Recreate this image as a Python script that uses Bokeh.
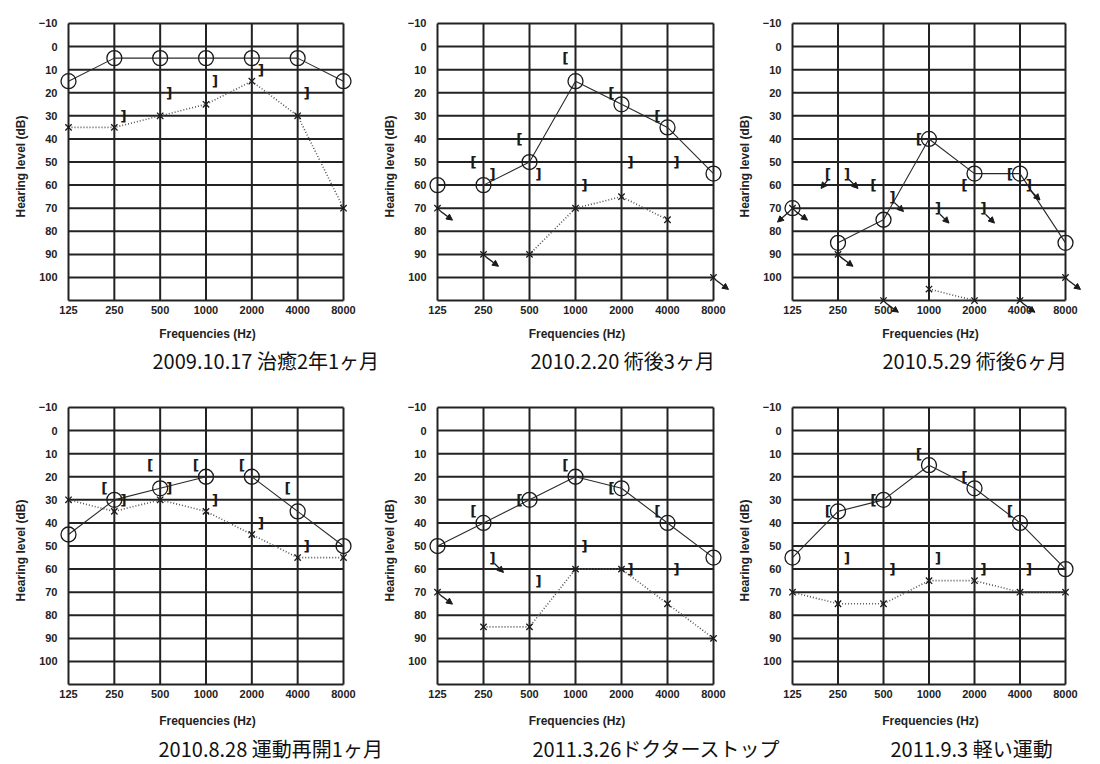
from bokeh.plotting import figure
from bokeh.layouts import column, row
from bokeh.models import (Range1d, FixedTicker, CustomJSTickFormatter, Arrow,
                          NormalHead, ColumnDataSource)
from bokeh.core.properties import value
from bokeh.embed import file_html
from bokeh.resources import INLINE

# ---------------- data ----------------
FREQS = [125, 250, 500, 1000, 2000, 4000, 8000]
BC_FREQS = [250, 500, 1000, 2000, 4000]
DB_TICKS = [-10, 0, 10, 20, 30, 40, 50, 60, 70, 80, 90, 100]
DB_FLOOR = 110

CAPTIONS_TOP = ["2009.10.17 治癒2年1ヶ月", "2010.2.20 術後3ヶ月", "2010.5.29 術後6ヶ月"]
CAPTIONS_BOTTOM = ["2010.8.28 運動再開1ヶ月", "2011.3.26ドクターストップ", "2011.9.3 軽い運動"]

# right ear air conduction (O, solid line), left ear air conduction (X, dotted)
# right bone conduction "[" and left bone conduction "]"; *_nr = no response (arrow)
r_ac_1 = [15, 5, 5, 5, 5, 5, 15]
r_ac_nr_1 = [0, 0, 0, 0, 0, 0, 0]
l_ac_1 = [35, 35, 30, 25, 15, 30, 70]
l_ac_nr_1 = [0, 0, 0, 0, 0, 0, 0]
r_bc_1 = [None, None, None, None, None]
r_bc_nr_1 = [0, 0, 0, 0, 0]
l_bc_1 = [30, 20, 15, 10, 20]
l_bc_nr_1 = [0, 0, 0, 0, 0]

r_ac_2 = [60, 60, 50, 15, 25, 35, 55]
r_ac_nr_2 = [0, 0, 0, 0, 0, 0, 0]
l_ac_2 = [70, 90, 90, 70, 65, 75, 100]
l_ac_nr_2 = [1, 1, 0, 0, 0, 0, 1]
r_bc_2 = [50, 40, 5, 20, 30]
r_bc_nr_2 = [0, 0, 0, 0, 0]
l_bc_2 = [55, 55, 60, 50, 50]
l_bc_nr_2 = [0, 0, 0, 0, 0]

r_ac_3 = [70, 85, 75, 40, 55, 55, 85]
r_ac_nr_3 = [1, 0, 0, 0, 0, 0, 0]
l_ac_3 = [70, 90, 110, 105, 110, 110, 100]
l_ac_nr_3 = [1, 1, 1, 0, 0, 1, 1]
r_bc_3 = [55, 60, 40, 60, 55]
r_bc_nr_3 = [1, 0, 0, 0, 0]
l_bc_3 = [55, 65, 70, 70, 60]
l_bc_nr_3 = [1, 1, 1, 1, 1]

r_ac_4 = [45, 30, 25, 20, 20, 35, 50]
r_ac_nr_4 = [0, 0, 0, 0, 0, 0, 0]
l_ac_4 = [30, 35, 30, 35, 45, 55, 55]
l_ac_nr_4 = [0, 0, 0, 0, 0, 0, 0]
r_bc_4 = [25, 15, 15, 15, 25]
r_bc_nr_4 = [0, 0, 0, 0, 0]
l_bc_4 = [30, 25, 30, 40, 50]
l_bc_nr_4 = [0, 0, 0, 0, 0]

r_ac_5 = [50, 40, 30, 20, 25, 40, 55]
r_ac_nr_5 = [0, 0, 0, 0, 0, 0, 0]
l_ac_5 = [70, 85, 85, 60, 60, 75, 90]
l_ac_nr_5 = [1, 0, 0, 0, 0, 0, 0]
r_bc_5 = [35, 30, 15, 25, 35]
r_bc_nr_5 = [0, 0, 0, 0, 0]
l_bc_5 = [55, 65, 50, 60, 60]
l_bc_nr_5 = [1, 0, 0, 0, 0]

r_ac_6 = [55, 35, 30, 15, 25, 40, 60]
r_ac_nr_6 = [0, 0, 0, 0, 0, 0, 0]
l_ac_6 = [70, 75, 75, 65, 65, 70, 70]
l_ac_nr_6 = [0, 0, 0, 0, 0, 0, 0]
r_bc_6 = [35, 30, 10, 20, 35]
r_bc_nr_6 = [0, 0, 0, 0, 0]
l_bc_6 = [55, 60, 55, 60, 60]
l_bc_nr_6 = [0, 0, 0, 0, 0]

# ---------------- layout / style ----------------
INK = "#1a1a1a"
TICK_FONT = "Liberation Sans"
GRID_H = 279          # px from -10 dB to 110 dB
PL, PR, PT, PB = 17, 20, 3, 12   # padding around the chart box (px)


def audiogram(r_ac, r_ac_nr, l_ac, l_ac_nr, r_bc, r_bc_nr, l_bc, l_bc_nr,
              width, span, bl, height, bt, bb, x_label_gap):
    oct_px = span / 6.0
    db_px = GRID_H / float(DB_FLOOR - DB_TICKS[0])

    def shift(f, db, dx, dy):
        return f * 2 ** (dx / oct_px), db + dy / db_px

    x0 = FREQS[0] / 2 ** (PL / oct_px)
    x1 = FREQS[-1] * 2 ** (PR / oct_px)
    ytop = DB_TICKS[0] - PT / db_px
    ybot = DB_FLOOR + PB / db_px
    br = width - bl - (span + PL + PR)

    p = figure(width=width, height=height, x_axis_type="log", title=None,
               x_range=Range1d(x0, x1), y_range=Range1d(ybot, ytop),
               toolbar_location=None, output_backend="svg",
               min_border_left=bl, min_border_right=br,
               min_border_top=bt, min_border_bottom=bb)
    p.background_fill_color = "white"
    p.border_fill_color = "white"
    p.outline_line_color = None
    p.grid.visible = False

    p.xaxis.ticker = FixedTicker(ticks=FREQS)
    p.xaxis.formatter = CustomJSTickFormatter(code="return String(Math.round(tick));")
    p.yaxis.ticker = FixedTicker(ticks=DB_TICKS)
    for ax in (p.xaxis, p.yaxis):
        ax.axis_line_color = None
        ax.major_tick_line_color = None
        ax.minor_tick_line_color = None
        ax.major_tick_out = 0
        ax.major_tick_in = 0
        ax.major_label_text_font = TICK_FONT
        ax.major_label_text_font_size = "11px"
        ax.major_label_text_font_style = "bold"
        ax.major_label_text_color = "#222222"
        ax.axis_label_text_font = TICK_FONT
        ax.axis_label_text_font_size = "12px"
        ax.axis_label_text_font_style = "bold"
        ax.axis_label_text_color = "#222222"
    p.xaxis.axis_label = "Frequencies (Hz)"
    p.yaxis.axis_label = "Hearing level (dB)"
    p.xaxis.major_label_standoff = 5 - PB
    p.xaxis.axis_label_standoff = x_label_gap
    p.yaxis.major_label_standoff = 11 - PL
    p.yaxis.axis_label_standoff = 8

    # chart grid (box from 125 to 8000 Hz, -10 to 110 dB)
    hlines = DB_TICKS + [DB_FLOOR]
    p.segment(x0=[FREQS[0]] * len(hlines), y0=hlines,
              x1=[FREQS[-1]] * len(hlines), y1=hlines,
              line_color="#222222", line_width=2)
    p.segment(x0=FREQS, y0=[DB_TICKS[0]] * len(FREQS),
              x1=FREQS, y1=[DB_FLOOR] * len(FREQS),
              line_color="#222222", line_width=2)

    nan = float("nan")
    r_line = [nan if n else v for v, n in zip(r_ac, r_ac_nr)]
    l_line = [nan if n else v for v, n in zip(l_ac, l_ac_nr)]
    p.line(FREQS, r_line, line_color="#2a2a2a", line_width=1.1)
    p.line(FREQS, l_line, line_color="#555555", line_width=1.6, line_dash="1 2")

    p.scatter(FREQS, r_ac, marker="circle", size=15, fill_alpha=0,
              line_color=INK, line_width=1.3)
    p.scatter(FREQS, l_ac, marker="x", size=9, line_color=INK, line_width=1.3)

    rx = [f for f, v in zip(BC_FREQS, r_bc) if v is not None]
    ry = [v for v in r_bc if v is not None]
    lx = [f for f, v in zip(BC_FREQS, l_bc) if v is not None]
    ly = [v for v in l_bc if v is not None]
    if rx:
        p.text(rx, ry, text=["["] * len(rx), x_offset=-10, text_align="center",
               text_baseline="middle", text_font=value("DejaVu Sans"),
               text_font_size="14px", text_font_style="bold", text_color=INK)
    if lx:
        p.text(lx, ly, text=["]"] * len(lx), x_offset=9, text_align="center",
               text_baseline="middle", text_font=value("DejaVu Sans"),
               text_font_size="14px", text_font_style="bold", text_color=INK)

    arrows = []
    for f, v, n in zip(FREQS, r_ac, r_ac_nr):
        if n:
            arrows.append(shift(f, v, -3, 3) + shift(f, v, -15, 14))
    for f, v, n in zip(FREQS, l_ac, l_ac_nr):
        if n:
            arrows.append(shift(f, v, 3, 3) + shift(f, v, 15, 12))
    for f, v, n in zip(BC_FREQS, r_bc, r_bc_nr):
        if n and v is not None:
            arrows.append(shift(f, v, -10, 6) + shift(f, v, -17, 15))
    for f, v, n in zip(BC_FREQS, l_bc, l_bc_nr):
        if n and v is not None:
            arrows.append(shift(f, v, 11, 6) + shift(f, v, 20, 15))
    if arrows:
        src = ColumnDataSource(dict(x0=[a[0] for a in arrows], y0=[a[1] for a in arrows],
                                    x1=[a[2] for a in arrows], y1=[a[3] for a in arrows]))
        p.add_layout(Arrow(end=NormalHead(size=6, line_color=INK, fill_color=INK, line_width=1),
                           x_start="x0", y_start="y0", x_end="x1", y_end="y1",
                           source=src, line_color=INK, line_width=1.3))
    return p


# (figure width, 125..8000 span px, left border px)
COLS = [(370, 275, 51), (363, 276, 50), (365, 273, 42)]

top_data = [
    (r_ac_1, r_ac_nr_1, l_ac_1, l_ac_nr_1, r_bc_1, r_bc_nr_1, l_bc_1, l_bc_nr_1),
    (r_ac_2, r_ac_nr_2, l_ac_2, l_ac_nr_2, r_bc_2, r_bc_nr_2, l_bc_2, l_bc_nr_2),
    (r_ac_3, r_ac_nr_3, l_ac_3, l_ac_nr_3, r_bc_3, r_bc_nr_3, l_bc_3, l_bc_nr_3),
]
bottom_data = [
    (r_ac_4, r_ac_nr_4, l_ac_4, l_ac_nr_4, r_bc_4, r_bc_nr_4, l_bc_4, l_bc_nr_4),
    (r_ac_5, r_ac_nr_5, l_ac_5, l_ac_nr_5, r_bc_5, r_bc_nr_5, l_bc_5, l_bc_nr_5),
    (r_ac_6, r_ac_nr_6, l_ac_6, l_ac_nr_6, r_bc_6, r_bc_nr_6, l_bc_6, l_bc_nr_6),
]

top = [audiogram(*d, w, span, bl, 343, 20, 29, 10)
       for d, (w, span, bl) in zip(top_data, COLS)]
bottom = [audiogram(*d, w, span, bl, 356, 30, 32, 13)
          for d, (w, span, bl) in zip(bottom_data, COLS)]


def caption_strip(texts, xs, height, baseline):
    s = figure(width=1098, height=height, x_range=Range1d(0, 1098),
               y_range=Range1d(height, 0), toolbar_location=None, title=None,
               output_backend="svg", min_border=0,
               x_axis_location=None, y_axis_location=None)
    s.grid.visible = False
    s.outline_line_color = None
    s.background_fill_color = "white"
    s.border_fill_color = "white"
    s.text(xs, [baseline] * len(xs), text=texts, text_align="left",
           text_baseline="alphabetic", text_font=value("Noto Sans CJK JP"),
           text_font_size="20px", text_color="#111111")
    return s


cap_top = caption_strip(CAPTIONS_TOP, [152, 530, 882], 31, 16.5)
cap_bottom = caption_strip(CAPTIONS_BOTTOM, [158, 532, 890], 32, 17.5)

layout = column(row(*top), cap_top, row(*bottom), cap_bottom)

open("out.html", "w").write(file_html(layout, INLINE))
